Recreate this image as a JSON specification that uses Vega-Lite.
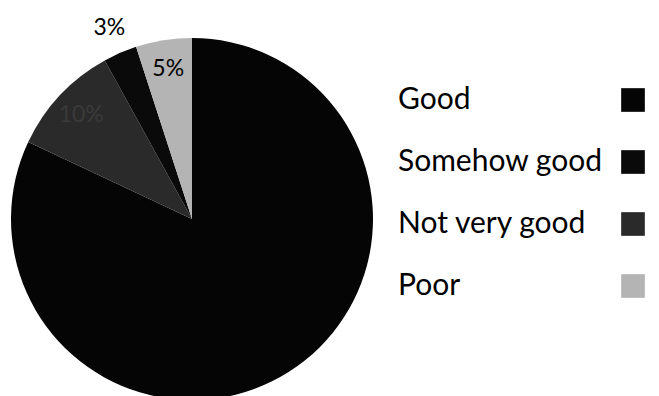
{
  "$schema": "https://vega.github.io/schema/vega-lite/v6.json",
  "width": 362,
  "height": 362,
  "autosize": {"type": "none"},
  "padding": {"left": 11, "top": 38, "right": 286, "bottom": 0},
  "background": "white",
  "config": {"view": {"stroke": null}, "font": "Lato"},
  "data": {
    "values": [
      {"category": "Good", "percent": 82, "slice_order": 1, "inlabel": "", "outlabel": ""},
      {"category": "Not very good", "percent": 10, "slice_order": 2, "inlabel": "10%", "outlabel": ""},
      {"category": "Somehow good", "percent": 3, "slice_order": 3, "inlabel": "", "outlabel": "3%"},
      {"category": "Poor", "percent": 5, "slice_order": 4, "inlabel": "5%", "outlabel": ""}
    ]
  },
  "encoding": {
    "theta": {"field": "percent", "type": "quantitative", "stack": true},
    "order": {"field": "slice_order", "type": "quantitative"}
  },
  "layer": [
    {
      "mark": {"type": "arc", "outerRadius": 181, "stroke": null},
      "encoding": {
        "color": {
          "field": "category",
          "type": "nominal",
          "scale": {
            "domain": ["Good", "Somehow good", "Not very good", "Poor"],
            "range": ["#050505", "#0a0a0a", "#2a2a2a", "#b4b4b4"]
          },
          "legend": {
            "title": null,
            "orient": "none",
            "legendX": 607,
            "legendY": 47,
            "direction": "vertical",
            "symbolType": "square",
            "symbolSize": 560,
            "symbolStrokeWidth": 0,
            "labelFontSize": 30,
            "labelFont": "Lato",
            "labelColor": "black",
            "labelOffset": -250,
            "labelAlign": "left",
            "labelLimit": 300,
            "rowPadding": 32
          }
        }
      }
    },
    {
      "mark": {"type": "text", "radius": 152, "fontSize": 23, "font": "Lato"},
      "encoding": {
        "text": {"field": "inlabel"},
        "color": {
          "condition": {"test": "datum.category === 'Not very good'", "value": "#3a3a3a"},
          "value": "black"
        }
      }
    },
    {
      "mark": {"type": "text", "radius": 208, "fontSize": 23, "font": "Lato", "color": "black"},
      "encoding": {
        "text": {"field": "outlabel"}
      }
    }
  ]
}
